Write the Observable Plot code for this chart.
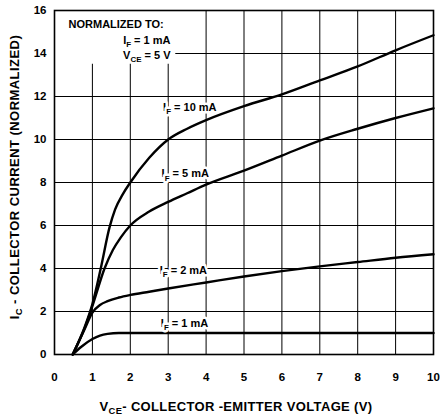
<!DOCTYPE html>
<html><head><meta charset="utf-8">
<script src="https://cdn.jsdelivr.net/npm/d3@7"></script>
<script src="https://cdn.jsdelivr.net/npm/@observablehq/plot@0.6"></script>
<style>body{margin:0;background:#fff} svg{display:block}</style>
</head><body><div id="chart"></div>
<script>
// ---- data ----
const xTicks = [0,1,2,3,4,5,6,7,8,9,10];
const yTicks = [0,2,4,6,8,10,12,14,16];

// [VCE (V), IC normalized]
const curveIF1  = [[0.48,0],[0.7,0.35],[1.0,0.72],[1.2,0.88],[1.4,0.96],[1.7,1.0],[3,1.0],[5,1.0],[10,1.0]];
const curveIF2  = [[0.48,0],[0.8,1.2],[1.0,1.95],[1.2,2.3],[1.4,2.48],[1.7,2.65],[2,2.77],[2.5,2.92],[3,3.07],[4,3.35],[5,3.63],[6,3.88],[7,4.1],[8,4.3],[9,4.5],[10,4.66]];
const curveIF5  = [[0.48,0],[0.8,1.25],[1.0,2.25],[1.32,4.0],[1.54,4.86],[1.75,5.45],[2,6.0],[2.5,6.65],[3,7.1],[3.5,7.5],[4,7.9],[5,8.55],[6,9.25],[7,9.95],[8,10.5],[9,11.0],[10,11.45]];
const curveIF10 = [[0.48,0],[0.8,1.3],[1.0,2.35],[1.22,4.0],[1.45,5.9],[1.6,6.75],[1.8,7.45],[2,8.0],[2.5,9.15],[3,10.0],[3.5,10.5],[4,10.9],[5,11.55],[6,12.1],[7,12.75],[8,13.4],[9,14.15],[10,14.85]];

const curveLabels = [
  {x:3.57, y:11.5, text:"I{F} = 10 mA"},
  {x:3.45, y:8.4,  text:"I{F} = 5 mA"},
  {x:3.4,  y:3.9,  text:"I{F} = 2 mA"},
  {x:3.43, y:1.45, text:"I{F} = 1 mA"}
];
const noteHead  = [{x:0.37, y:15.35, text:"NORMALIZED TO:"}];
const noteLines = [
  {x:3.06, y:14.6, text:"I{F} = 1 mA"},
  {x:3.06, y:13.9, text:"V{CE} = 5 V"}
];
const noteBox = [{x1:0, x2:3.2, y1:13.5, y2:16}];
const xTitle = "V{CE}- COLLECTOR -EMITTER VOLTAGE (V)";
const yTitle = "I{C} - COLLECTOR CURRENT (NORMALIZED)";

const FONT = "'Liberation Sans', Arial, Helvetica, sans-serif";
const lineOpts = {x:d=>d[0], y:d=>d[1], curve:"monotone-x", stroke:"black", strokeWidth:2.4};

const chart = Plot.plot({
  width:440, height:420,
  marginLeft:54, marginRight:7, marginTop:10, marginBottom:66,
  x:{domain:[0,10]}, y:{domain:[0,16]},
  style:{fontFamily:FONT, fontSize:"11px", fontWeight:"bold", color:"black", background:"white"},
  marks:[
    Plot.gridX({ticks:xTicks.slice(1,-1), stroke:"black", strokeOpacity:1, strokeWidth:1}),
    Plot.gridY({ticks:yTicks.slice(1,-1), stroke:"black", strokeOpacity:1, strokeWidth:1}),
    Plot.rect(noteBox, {x1:"x1", x2:"x2", y1:"y1", y2:"y2", fill:"white"}),
    Plot.frame({stroke:"black", strokeWidth:1.6}),
    Plot.axisX({ticks:xTicks, tickSize:0, tickPadding:18, label:null, fontSize:11.5, fontWeight:"bold"}),
    Plot.axisY({ticks:yTicks, tickSize:0, tickPadding:8, label:null, fontSize:11.5, fontWeight:"bold"}),
    Plot.line(curveIF1, lineOpts),
    Plot.line(curveIF2, lineOpts),
    Plot.line(curveIF5, lineOpts),
    Plot.line(curveIF10, lineOpts),
    Plot.text(curveLabels, {x:"x", y:"y", text:"text", fill:"black", stroke:"white", strokeWidth:5, fontSize:11, fontWeight:"bold"}),
    Plot.text(noteHead, {x:"x", y:"y", text:"text", textAnchor:"start", fill:"black", fontSize:11, fontWeight:"bold"}),
    Plot.text(noteLines, {x:"x", y:"y", text:"text", textAnchor:"end", fill:"black", fontSize:11, fontWeight:"bold"})
  ]
});

const svg = d3.select(chart.tagName.toLowerCase()==="svg" ? chart : chart.querySelector("svg"));

// axis titles
svg.append("text").attr("x",236).attr("y",410.5).attr("text-anchor","middle")
  .attr("font-family",FONT).attr("font-size",13).attr("font-weight","bold").attr("letter-spacing",0.35)
  .attr("fill","black").text(xTitle);
svg.append("text").attr("transform","translate(18.5,177) rotate(-90)").attr("text-anchor","middle")
  .attr("font-family",FONT).attr("font-size",13).attr("font-weight","bold").attr("letter-spacing",0.45)
  .attr("fill","black").text(yTitle);

// turn {X} into subscripts
svg.selectAll("text").each(function(){
  const t = this.textContent;
  if (!t.includes("{")) return;
  const fs = parseFloat(this.getAttribute("font-size") || getComputedStyle(this).fontSize) || 11;
  const sub = fs*0.72, shift = fs*0.28;
  const parts = t.split(/(\{[^}]*\})/).filter(s=>s.length);
  const el = d3.select(this); el.text(null);
  let pending = 0;
  parts.forEach(p=>{
    if (p.startsWith("{")) {
      el.append("tspan").attr("dy",shift).attr("font-size",sub).text(p.slice(1,-1));
      pending = -shift;
    } else {
      const ts = el.append("tspan").text(p);
      if (pending) { ts.attr("dy",pending); pending = 0; }
    }
  });
});

document.getElementById("chart").appendChild(chart);
</script>
</body></html>
